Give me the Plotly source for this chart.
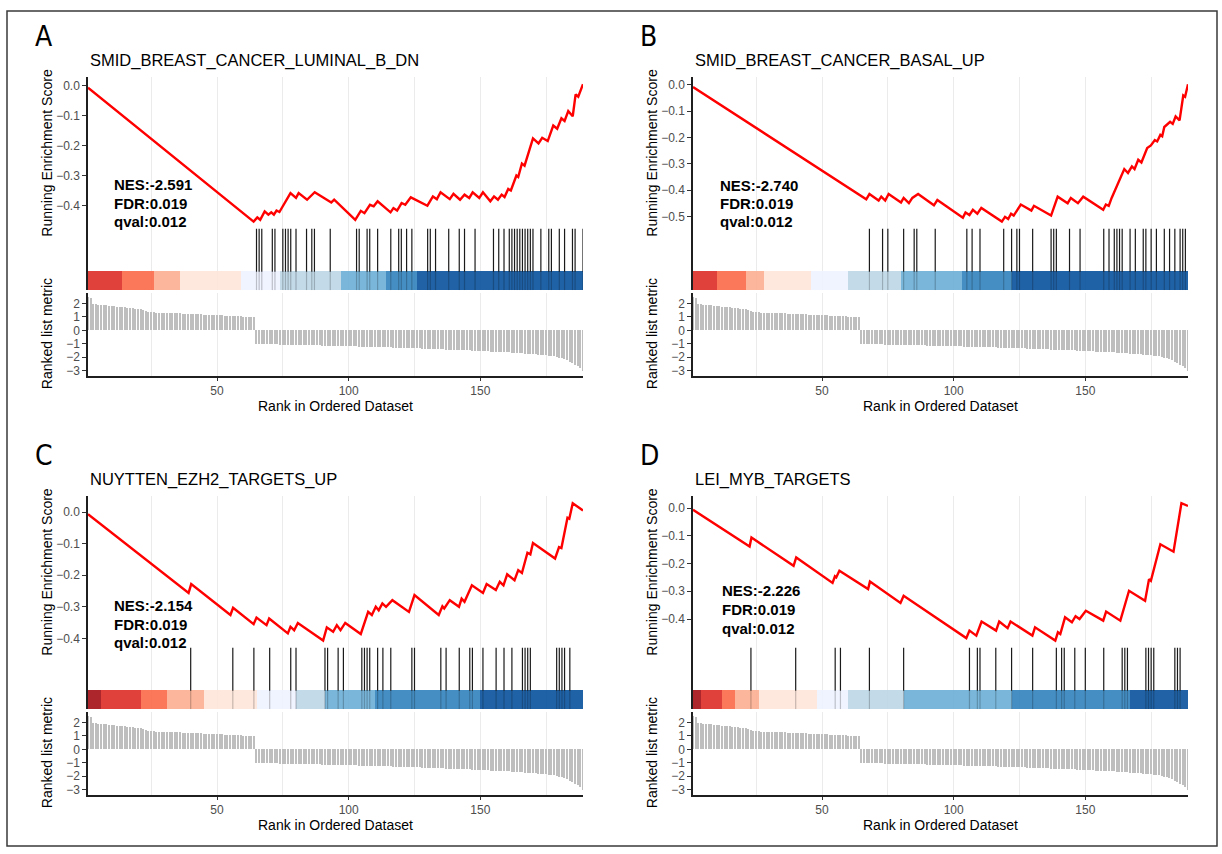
import plotly.graph_objects as go

W, H = 1222, 854
FONT = "Liberation Sans, Arial, sans-serif"
NARROW = "Liberation Sans Narrow, DejaVu Sans Condensed, Liberation Sans, Arial"

# ---------------- data ----------------
ranks = list(range(1, 190))
metric_pos = [2.52, 2.42, 1.98, 1.96, 1.94, 1.92, 1.90, 1.88, 1.85, 1.82,
              1.80, 1.78, 1.76, 1.74, 1.72, 1.70, 1.68, 1.66, 1.63, 1.60,
              1.57, 1.52, 1.45, 1.40, 1.37, 1.35, 1.34, 1.33, 1.32, 1.31,
              1.30, 1.30, 1.29, 1.28, 1.28, 1.27, 1.26, 1.25, 1.25, 1.24,
              1.23, 1.22, 1.21, 1.20, 1.19, 1.18, 1.17, 1.16, 1.15, 1.14,
              1.13, 1.12, 1.11, 1.10, 1.09, 1.08, 1.07, 1.06, 1.05, 1.04,
              1.03, 1.02, 1.01, 1.00]
metric_neg = [-1.00, -1.01, -1.01, -1.02, -1.02, -1.03, -1.03, -1.04, -1.04, -1.05,
              -1.05, -1.06, -1.06, -1.07, -1.07, -1.08, -1.08, -1.09, -1.09, -1.10,
              -1.10, -1.11, -1.11, -1.12, -1.12, -1.13, -1.13, -1.14, -1.14, -1.15,
              -1.15, -1.16, -1.16, -1.17, -1.17, -1.18, -1.18, -1.19, -1.19, -1.20,
              -1.20, -1.21, -1.21, -1.22, -1.23, -1.23, -1.24, -1.24, -1.25, -1.26,
              -1.26, -1.27, -1.28, -1.28, -1.29, -1.30, -1.30, -1.31, -1.32, -1.32,
              -1.33, -1.34, -1.34, -1.35, -1.36, -1.37, -1.37, -1.38, -1.39, -1.40,
              -1.40, -1.41, -1.42, -1.43, -1.43, -1.44, -1.45, -1.46, -1.47, -1.47,
              -1.48, -1.49, -1.50, -1.51, -1.52, -1.53, -1.54, -1.55, -1.56, -1.57,
              -1.58, -1.59, -1.60, -1.61, -1.62, -1.63, -1.64, -1.65, -1.66, -1.68,
              -1.69, -1.70, -1.72, -1.73, -1.75, -1.76, -1.78, -1.80, -1.82, -1.84,
              -1.86, -1.88, -1.91, -1.94, -1.98, -2.03, -2.09, -2.16, -2.24, -2.33,
              -2.43, -2.55, -2.68, -2.83, -3.00]
rank_metric = metric_pos + metric_neg

panel_letters = ["A", "B", "C", "D"]
titles = ["SMID_BREAST_CANCER_LUMINAL_B_DN", "SMID_BREAST_CANCER_BASAL_UP",
          "NUYTTEN_EZH2_TARGETS_UP", "LEI_MYB_TARGETS"]
nes = ["-2.591", "-2.740", "-2.154", "-2.226"]
fdr = ["0.019", "0.019", "0.019", "0.019"]
qval = ["0.012", "0.012", "0.012", "0.012"]

# running enrichment score (turning points)
esA_x = [1, 63.9, 65.3, 66.4, 68.1, 69.5, 70.6, 71.6, 72.6, 73.7, 77.9, 80.0, 81.0, 84.2, 87.1, 93.4,
         94.5, 102.5, 104.6, 106.0, 108.1, 109.5, 111.0, 115.9, 117.0, 118.4, 120.1, 121.5, 123.6,
         129.9, 132.0, 133.5, 134.9, 138.4, 139.8, 142.3, 144.0, 145.8, 147.1, 149.6, 151.0, 153.8,
         155.2, 156.7, 158.1, 159.2, 160.6, 161.6, 163.7, 164.4, 165.8, 166.8, 170.0, 172.1, 173.5,
         175.6, 177.7, 179.2, 180.8, 182.0, 183.4, 185.1, 186.2, 187.2, 189]
esA_y = [-0.006, -0.453, -0.439, -0.447, -0.419, -0.430, -0.422, -0.430, -0.416, -0.421, -0.358,
         -0.374, -0.358, -0.380, -0.355, -0.389, -0.380, -0.447, -0.417, -0.425, -0.397, -0.402,
         -0.385, -0.422, -0.408, -0.416, -0.391, -0.397, -0.372, -0.400, -0.369, -0.378, -0.355,
         -0.378, -0.360, -0.380, -0.363, -0.374, -0.355, -0.374, -0.355, -0.385, -0.369, -0.380,
         -0.363, -0.371, -0.344, -0.349, -0.299, -0.304, -0.259, -0.266, -0.175, -0.192, -0.173,
         -0.184, -0.132, -0.143, -0.108, -0.117, -0.084, -0.101, -0.028, -0.036, 0.006]
esB_x = [1, 66.8, 68.0, 71.5, 72.5, 74.0, 75.3, 80.0, 81.0, 83.0, 84.3, 86.5, 92.5, 93.8, 103.5,
         104.5, 106.0, 107.3, 109.0, 110.5, 118.3, 119.5, 120.7, 121.8, 122.8, 125.5, 129.5, 130.5,
         137.0, 139.5, 143.3, 144.5, 147.2, 149.2, 156.8, 157.8, 158.9, 160.0, 164.8, 166.2, 167.7,
         168.7, 170.1, 171.3, 173.5, 174.9, 176.4, 177.3, 178.5, 179.2, 180.0, 182.2, 183.2, 184.3,
         185.8, 187.2, 187.9, 189]
esB_y = [-0.008, -0.435, -0.415, -0.440, -0.425, -0.440, -0.415, -0.447, -0.430, -0.450, -0.430,
         -0.415, -0.458, -0.438, -0.505, -0.485, -0.495, -0.475, -0.490, -0.468, -0.520, -0.502,
         -0.510, -0.490, -0.497, -0.455, -0.478, -0.460, -0.497, -0.425, -0.450, -0.430, -0.450,
         -0.425, -0.475, -0.455, -0.460, -0.430, -0.320, -0.335, -0.310, -0.320, -0.285, -0.295,
         -0.240, -0.230, -0.210, -0.215, -0.190, -0.195, -0.160, -0.140, -0.148, -0.120, -0.135,
         -0.040, -0.045, 0.003]
esC_x = [1, 39.2, 40.2, 55.1, 56.1, 63.9, 65.0, 68.8, 69.8, 76.9, 77.9, 79.3, 80.7, 90.3, 91.7,
         94.1, 95.5, 96.9, 98.7, 104.6, 107.4, 108.8, 110.3, 111.4, 112.8, 114.2, 116.6, 122.9,
         125.0, 134.2, 135.6, 136.3, 138.4, 141.9, 142.9, 144.0, 146.8, 151.0, 152.4, 155.9, 157.4,
         158.8, 160.2, 163.0, 164.4, 165.8, 167.9, 169.0, 170.0, 178.4, 179.9, 180.8, 183.1, 183.8,
         185.1, 189]
esC_y = [-0.007, -0.256, -0.228, -0.326, -0.303, -0.355, -0.334, -0.358, -0.337, -0.384, -0.363,
         -0.374, -0.351, -0.407, -0.365, -0.379, -0.358, -0.374, -0.351, -0.386, -0.316, -0.326,
         -0.300, -0.311, -0.289, -0.300, -0.279, -0.316, -0.263, -0.326, -0.298, -0.305, -0.279,
         -0.300, -0.274, -0.284, -0.232, -0.256, -0.228, -0.247, -0.221, -0.232, -0.197, -0.216,
         -0.184, -0.193, -0.129, -0.134, -0.098, -0.147, -0.111, -0.114, -0.018, -0.021, 0.028,
         0.005]
esD_x = [1, 22.5, 23.2, 39.2, 40.2, 54.0, 54.9, 55.4, 56.6, 67.5, 68.2, 79.8, 81.0, 104.8, 106.0,
         108.6, 110.6, 116.1, 117.3, 120.5, 121.6, 129.9, 130.9, 138.6, 139.6, 140.5, 142.3, 144.9,
         146.3, 147.8, 150.2, 156.8, 157.9, 163.3, 166.6, 172.7, 174.2, 174.9, 178.5, 183.5, 186.5,
         189]
esD_y = [-0.006, -0.138, -0.106, -0.208, -0.178, -0.270, -0.246, -0.250, -0.226, -0.292, -0.265,
         -0.342, -0.316, -0.469, -0.442, -0.460, -0.409, -0.442, -0.409, -0.433, -0.409, -0.460,
         -0.430, -0.478, -0.448, -0.454, -0.394, -0.412, -0.390, -0.400, -0.370, -0.406, -0.373,
         -0.406, -0.298, -0.334, -0.256, -0.262, -0.130, -0.157, 0.018, 0.008]

# gene-set hit positions (ranks)
hitsA = [65, 66, 67, 71, 72, 75, 76, 77, 78, 80, 84, 86, 87, 93, 103, 104, 107, 108, 111, 116,
         119, 120, 122, 124, 130, 131, 133, 138, 142, 144, 148, 155, 157, 159, 161, 162, 163, 164,
         165, 166, 167, 168, 169, 170, 173, 176, 177, 180, 182, 185, 186, 189]
hitsB = [68, 73, 75, 81, 85, 86, 93, 105, 107, 110, 119, 122, 124, 125, 130, 137, 138, 139, 144,
         148, 157, 159, 161, 162, 163, 164, 167, 169, 172, 173, 175, 177, 180, 182, 184, 186, 187,
         188]
hitsC = [40, 56, 64, 70, 78, 80, 91, 92, 96, 98, 105, 106, 107, 108, 111, 113, 116, 124, 125,
         135, 137, 142, 146, 147, 151, 156, 159, 162, 166, 167, 168, 169, 179, 180, 181, 182, 184]
hitsD = [23, 40, 55, 57, 68, 81, 106, 109, 110, 116, 122, 130, 139, 141, 142, 146, 150, 157, 164,
         165, 166, 173, 174, 175, 176, 184, 185, 186]

# colour strip segments (rank edges) and their colours
stripA_edges = [1, 14, 26, 36, 59, 74, 97, 114, 126, 189]
stripA_cols = ["#DE2D26", "#FB6A4A", "#FCAE91", "#FEE5D9", "#EFF3FF", "#BDD7E7", "#6BAED6",
               "#3182BD", "#08519C"]
stripB_edges = [1, 10, 21, 28, 46, 60, 80, 103, 122, 189]
stripB_cols = ["#DE2D26", "#FB6A4A", "#FCAE91", "#FEE5D9", "#EFF3FF", "#BDD7E7", "#6BAED6",
               "#3182BD", "#08519C"]
stripC_edges = [1, 6, 21, 31, 45, 65, 80, 91, 110, 150, 189]
stripC_cols = ["#A50F15", "#DE2D26", "#FB6A4A", "#FCAE91", "#FEE5D9", "#EFF3FF", "#BDD7E7",
               "#6BAED6", "#3182BD", "#08519C"]
stripD_edges = [1, 4, 12, 17, 26, 48, 60, 81, 122, 167, 189]
stripD_cols = ["#A50F15", "#DE2D26", "#FB6A4A", "#FCAE91", "#FEE5D9", "#EFF3FF", "#BDD7E7",
               "#6BAED6", "#3182BD", "#08519C"]

es_ticks = [[0.0, -0.1, -0.2, -0.3, -0.4],
            [0.0, -0.1, -0.2, -0.3, -0.4, -0.5],
            [0.0, -0.1, -0.2, -0.3, -0.4],
            [0.0, -0.1, -0.2, -0.3, -0.4]]
metric_ticks = [-3, -2, -1, 0, 1, 2]
x_ticks = [50, 100, 150]
x_minor = [25, 75, 125, 175]

es_x = [esA_x, esB_x, esC_x, esD_x]
es_y = [esA_y, esB_y, esC_y, esD_y]
hits = [hitsA, hitsB, hitsC, hitsD]
strip_edges = [stripA_edges, stripB_edges, stripC_edges, stripD_edges]
strip_cols = [stripA_cols, stripB_cols, stripC_cols, stripD_cols]

# ---------------- layout geometry (pixels) ----------------
panel_x0 = [88, 693, 88, 693]
panel_off = [0, 0, 420, 420]
PW = 495
P1 = (77.5, 229)
P2 = (229, 291)
P3 = (293.5, 376.7)
letter_pos = [(33, 37), (638, 37), (33, 457), (638, 457)]
stats_pos = [(112, [185, 203.5, 222]), (718, [185.5, 203.5, 222]),
             (112, [607, 625.5, 644]), (720, [592, 611, 629.5])]


def fx(p):
    return p / W


def fy(p):
    return 1 - p / H


GRID = "#EBEBEB"
AXC = "#1f1f1f"
TICKC = "#333333"
TICKF = dict(family=FONT, size=12, color="#4D4D4D")

fig = go.Figure()
layout = dict(width=W, height=H, margin=dict(l=0, r=0, t=0, b=0),
              paper_bgcolor="white", plot_bgcolor="white", showlegend=False,
              font=dict(family=FONT, color="black"), bargap=0)
annotations = []

for i in range(4):
    x0 = panel_x0[i]
    off = panel_off[i]
    xd = [fx(x0), fx(x0 + PW)]
    k1, k2, k3 = 3 * i + 1, 3 * i + 2, 3 * i + 3
    names = {}
    for k in (k1, k2, k3):
        names[k] = ("x" if k == 1 else f"x{k}", "y" if k == 1 else f"y{k}")

    xcommon = dict(range=[1, 189], domain=xd, showgrid=True, gridcolor=GRID, gridwidth=1,
                   tickvals=x_ticks, zeroline=False,
                   minor=dict(tickvals=x_minor, showgrid=True, gridcolor=GRID, gridwidth=1, ticks=""))
    # --- panel 1: running ES
    ey = es_y[i]
    lo, hi = min(ey), max(ey)
    sp = hi - lo
    layout["xaxis" + ("" if k1 == 1 else str(k1))] = dict(xcommon, anchor=names[k1][1],
                                                           showticklabels=False, ticks="", showline=False)
    layout[f"yaxis{k1 if k1 > 1 else ''}"] = dict(
        domain=[fy(P1[1] + off), fy(P1[0] + off)], anchor=names[k1][0],
        range=[lo - 0.05 * sp, hi + 0.05 * sp], tickvals=es_ticks[i], tickformat=".1f",
        showline=True, linecolor=AXC, linewidth=1.5, ticks="outside", ticklen=4, tickwidth=1.1,
        tickcolor=TICKC, tickfont=TICKF, showgrid=False, zeroline=False)
    fig.add_trace(go.Scatter(x=es_x[i], y=ey, mode="lines", line=dict(color="#FF0000", width=2.4),
                             xaxis=names[k1][0], yaxis=names[k1][1], hoverinfo="skip"))

    # --- panel 2: hits + colour strip
    layout[f"xaxis{k2}"] = dict(xcommon, anchor=names[k2][1], showticklabels=False, ticks="",
                                showline=False)
    layout[f"yaxis{k2}"] = dict(domain=[fy(P2[1] + off), fy(P2[0] + off)], anchor=names[k2][0],
                                range=[0, 1], showline=True, linecolor=AXC, linewidth=1.5,
                                ticks="", showticklabels=False, showgrid=False, zeroline=False)
    ed = strip_edges[i]
    fig.add_trace(go.Bar(x=[(ed[j] + ed[j + 1]) / 2 for j in range(len(ed) - 1)],
                         width=[ed[j + 1] - ed[j] for j in range(len(ed) - 1)],
                         y=[0.3] * (len(ed) - 1), base=0,
                         marker=dict(color=strip_cols[i], line=dict(width=0)), opacity=0.9,
                         xaxis=names[k2][0], yaxis=names[k2][1], hoverinfo="skip"))
    hx, hy, lx, ly = [], [], [], []
    for h in hits[i]:
        hx += [h, h, None]
        hy += [0.3, 1, None]
        lx += [h, h, None]
        ly += [0, 0.3, None]
    fig.add_trace(go.Scatter(x=hx, y=hy, mode="lines", line=dict(color="#1a1a1a", width=1.2),
                             xaxis=names[k2][0], yaxis=names[k2][1], hoverinfo="skip"))
    fig.add_trace(go.Scatter(x=lx, y=ly, mode="lines", line=dict(color="rgba(0,0,0,0.22)", width=1.2),
                             xaxis=names[k2][0], yaxis=names[k2][1], hoverinfo="skip"))

    # --- panel 3: ranked list metric
    layout[f"xaxis{k3}"] = dict(xcommon, anchor=names[k3][1], showticklabels=True, ticks="outside",
                                ticklen=3.5, tickwidth=1.1, tickcolor=TICKC, tickfont=TICKF,
                                showline=True, linecolor=AXC, linewidth=1.5)
    layout[f"yaxis{k3}"] = dict(domain=[fy(P3[1] + off), fy(P3[0] + off)], anchor=names[k3][0],
                                range=[-3.4, 2.8], tickvals=metric_ticks, showline=True,
                                linecolor=AXC, linewidth=1.5, ticks="outside", ticklen=4,
                                tickwidth=1.1, tickcolor=TICKC, tickfont=TICKF, showgrid=False,
                                zeroline=False)
    fig.add_trace(go.Bar(x=ranks, y=rank_metric, width=0.45,
                         marker=dict(color="#BEBEBE", line=dict(width=0)),
                         xaxis=names[k3][0], yaxis=names[k3][1], hoverinfo="skip"))

    # --- texts
    lxp, lyp = letter_pos[i]
    annotations.append(dict(text=panel_letters[i], x=fx(lxp), y=fy(lyp),
                            xref="paper", yref="paper", xanchor="left", yanchor="middle",
                            showarrow=False, font=dict(family=NARROW, size=28, color="black")))
    annotations.append(dict(text=titles[i], x=fx(x0), y=fy(61 + off), xref="paper", yref="paper",
                            xanchor="left", yanchor="middle", showarrow=False,
                            font=dict(family=FONT, size=16.5, color="black")))
    sx, sys_ = stats_pos[i]
    for txt, yy in zip([f"NES:{nes[i]}", f"FDR:{fdr[i]}", f"qval:{qval[i]}"], sys_):
        annotations.append(dict(text=f"<b>{txt}</b>", x=fx(sx), y=fy(yy), xref="paper", yref="paper",
                                xanchor="left", yanchor="middle", showarrow=False,
                                font=dict(family=FONT, size=15, color="black")))
    annotations.append(dict(text="Running Enrichment Score", x=fx(x0 - 41), y=fy(153 + off),
                            xref="paper", yref="paper", xanchor="center", yanchor="middle",
                            textangle=-90, showarrow=False,
                            font=dict(family=FONT, size=14, color="black")))
    annotations.append(dict(text="Ranked list metric", x=fx(x0 - 41), y=fy(335 + off),
                            xref="paper", yref="paper", xanchor="center", yanchor="middle",
                            textangle=-90, showarrow=False,
                            font=dict(family=FONT, size=14, color="black")))
    annotations.append(dict(text="Rank in Ordered Dataset", x=fx(x0 + PW / 2), y=fy(407 + off),
                            xref="paper", yref="paper", xanchor="center", yanchor="middle",
                            showarrow=False, font=dict(family=FONT, size=14, color="black")))

layout["annotations"] = annotations
layout["shapes"] = [dict(type="rect", xref="paper", yref="paper", x0=fx(7), x1=fx(1217),
                         y0=fy(848), y1=fy(11), line=dict(color="#3a3a3a", width=1.5),
                         fillcolor="rgba(0,0,0,0)", layer="above")]
fig.update_layout(**layout)

fig.write_html("out.html", config={"displayModeBar": False},
               post_script="document.body.style.margin='0px';")
